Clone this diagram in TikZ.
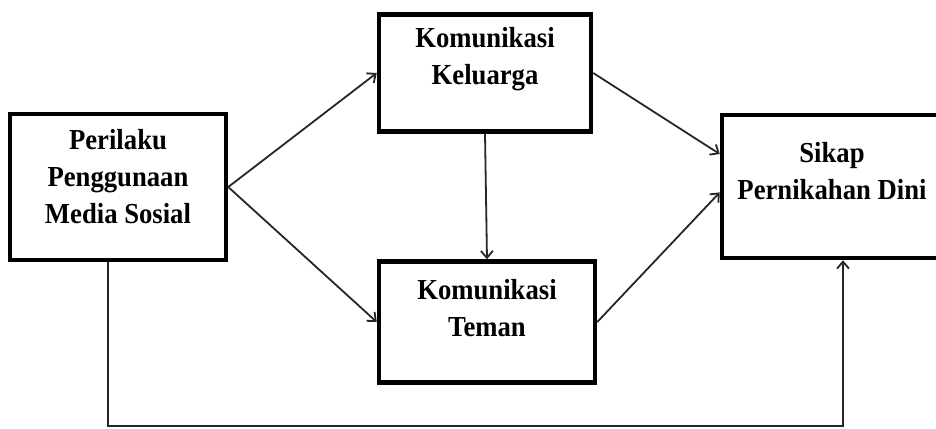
\documentclass[tikz,border=0pt]{standalone}
\usepackage{fontspec}
\newfontfamily\boxfont[FakeStretch=0.92]{Liberation Serif}
\usepackage{tikz}
\usetikzlibrary{arrows.meta, calc, positioning}

\begin{document}
\begin{tikzpicture}[x=1pt, y=-1pt,
		varbox/.style={draw, line width=4.5pt, align=center, inner sep=0pt,
			font=\boxfont\bfseries\fontsize{29}{37}\selectfont},
		path/.style={line width=1.8pt, draw=black!85, -{Straight Barb[length=7pt, width=12pt]}}]
			\useasboundingbox (0,0) rectangle (936,428);
			\clip (0,0) rectangle (936,428);
			% Boxes
			\node[varbox, minimum width=216pt, minimum height=146pt, text depth=22pt] (medsos) at (118,187) {Perilaku\\Penggunaan\\Media Sosial};
			\node[varbox, minimum width=212pt, minimum height=117pt, text depth=35pt] (keluarga) at (485,73) {Komunikasi\\Keluarga};
			\node[varbox, minimum width=216pt, minimum height=121pt, text depth=29pt] (teman) at (487,322) {Komunikasi\\Teman};
			\node[varbox, minimum width=220pt, minimum height=143pt, text depth=31pt] (sikap) at (832,186.5) {Sikap\\Pernikahan Dini};
			\coordinate (base) at (0,426);
			
			% Paths
			\draw[path] (medsos.east) -- (keluarga.west);
			\draw[path] (medsos.east) -- (teman.west);
			\draw[path] (keluarga.south) -- (teman.north);
			\draw[path] (keluarga.east) -- ($(sikap.north west)!0.28!(sikap.south west)$);
			\draw[path] (teman.east) -- ($(sikap.north west)!0.54!(sikap.south west)$);
			\draw[path] ([xshift=-10pt]medsos.south) -- ([xshift=-10pt]medsos.south |- base) -- ([xshift=11pt]sikap.south |- base) -- ([xshift=11pt]sikap.south);
			
		\end{tikzpicture}
\end{document}
